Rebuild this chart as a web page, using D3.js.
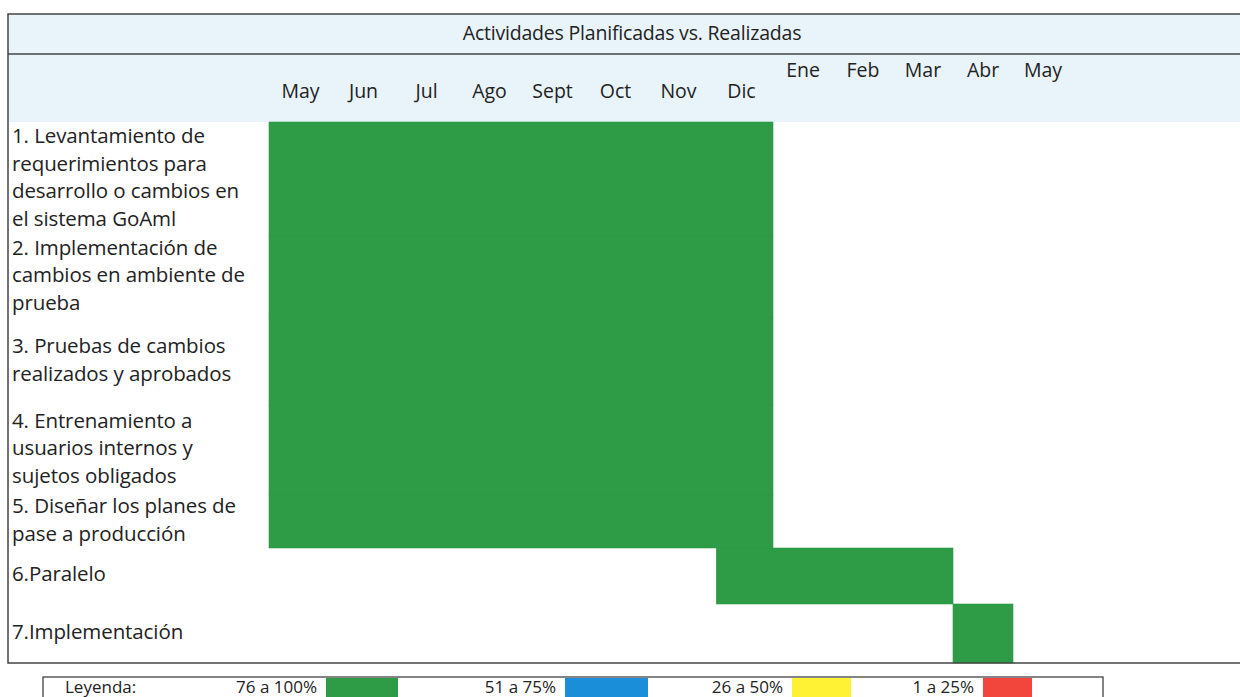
<!DOCTYPE html>
<html>
<head>
<meta charset="utf-8">
<script src="https://cdn.jsdelivr.net/npm/d3@7"></script>
<style>
  body { margin: 0; background: #fff; }
  svg { display: block; font-family: "Open Sans", Lato, sans-serif; }
</style>
</head>
<body>
<svg id="chart" width="1240" height="697"></svg>
<script>
// months on the header (position in months from start of May, raised = second header line)
var months = ["May", "Jun", "Jul", "Ago", "Sept", "Oct", "Nov", "Dic", "Ene", "Feb", "Mar", "Abr", "May"];
var monthRaised = [false, false, false, false, false, false, false, false, true, true, true, true, true];

// activities, label lines and planned period (start/end in months from May)
var taskLabels = [
    ["1. Levantamiento de", "requerimientos para", "desarrollo o cambios en", "el sistema GoAml"],
    ["2. Implementación de", "cambios en ambiente de", "prueba"],
    ["3. Pruebas de cambios", "realizados y aprobados"],
    ["4. Entrenamiento a", "usuarios internos y", "sujetos obligados"],
    ["5. Diseñar los planes de", "pase a producción"],
    ["6.Paralelo"],
    ["7.Implementación"]
];
var taskStart = [0, 0, 0, 0, 0, 7.1, 11];
var taskEnd   = [8, 8, 8, 8, 8, 11, 12];
var taskLevel = ["76 a 100%", "76 a 100%", "76 a 100%", "76 a 100%", "76 a 100%", "76 a 100%", "76 a 100%"];

var legendLabels = ["76 a 100%", "51 a 75%", "26 a 50%", "1 a 25%"];
var legendColors = ["#2e9b47", "#1a8ed8", "#fff235", "#f2463c"];

// layout
var rowHeights = [114, 82, 87, 90, 53, 56, 59];
var top0 = 122;

var svg = d3.select("#chart");

var x = d3.scaleLinear().domain([0, 8, 13]).range([269, 773, 1073]);
var color = d3.scaleOrdinal().domain(legendLabels).range(legendColors);

var rowTop = [];
rowHeights.reduce(function(acc, h) { rowTop.push(acc); return acc + h; }, top0);

// header bands
svg.append("rect").attr("x", 8).attr("y", 14).attr("width", 1240).attr("height", top0 - 14)
    .attr("fill", "#e9f4fa");
svg.append("rect").attr("x", 8).attr("y", top0).attr("width", 1240).attr("height", 663 - top0)
    .attr("fill", "#fff");

svg.append("text")
    .attr("x", 632).attr("y", 35)
    .attr("text-anchor", "middle").attr("dominant-baseline", "middle")
    .style("font-size", "19.5px").style("fill", "#222")
    .style("letter-spacing", "-0.2px")
    .text("Actividades Planificadas vs. Realizadas");

svg.selectAll("text.month")
    .data(months)
    .enter().append("text")
    .attr("class", "month")
    .attr("x", function(d, i) { return x(i + 0.5); })
    .attr("y", function(d, i) { return monthRaised[i] ? 72 : 93; })
    .attr("text-anchor", "middle").attr("dominant-baseline", "middle")
    .style("font-size", "19.5px").style("fill", "#222")
    .text(function(d) { return d; });

// bars
svg.selectAll("rect.bar")
    .data(taskStart)
    .enter().append("rect")
    .attr("class", "bar")
    .attr("x", function(d, i) { return x(taskStart[i]); })
    .attr("width", function(d, i) { return x(taskEnd[i]) - x(taskStart[i]); })
    .attr("y", function(d, i) { return rowTop[i]; })
    .attr("height", function(d, i) { return rowHeights[i]; })
    .attr("fill", function(d, i) { return color(taskLevel[i]); })
    .attr("stroke", function(d, i) { return color(taskLevel[i]); })
    .attr("stroke-width", 0.6);

// activity labels
var lh = 27.5;
taskLabels.forEach(function(lines, i) {
    var cy = rowTop[i] + rowHeights[i] / 2;
    svg.append("g").selectAll("text")
        .data(lines)
        .enter().append("text")
        .attr("x", 12)
        .attr("y", function(d, j) { return cy + (j - (lines.length - 1) / 2) * lh; })
        .attr("dominant-baseline", "middle")
        .style("font-size", "20.5px").style("fill", "#222")
        .style("letter-spacing", "-0.1px")
        .text(function(d) { return d; });
});

// frame
svg.append("line").attr("x1", 8).attr("x2", 1240).attr("y1", 54).attr("y2", 54)
    .attr("stroke", "#444").attr("stroke-width", 1.5);
svg.append("rect").attr("x", 8).attr("y", 14).attr("width", 1240).attr("height", 649)
    .attr("fill", "none").attr("stroke", "#444").attr("stroke-width", 1.5);

// legend
var lg = svg.append("g");
lg.append("rect").attr("x", 43).attr("y", 677).attr("width", 1060).attr("height", 30)
    .attr("fill", "#fff").attr("stroke", "#333").attr("stroke-width", 1.2);
lg.append("text").attr("x", 65).attr("y", 688)
    .attr("dominant-baseline", "middle")
    .style("font-size", "17px").style("fill", "#222")
    .text("Leyenda:");
var swX = [326, 565, 792, 983];
var swW = [72, 83, 59, 49];
lg.selectAll("rect.sw")
    .data(legendLabels)
    .enter().append("rect")
    .attr("class", "sw")
    .attr("x", function(d, i) { return swX[i]; })
    .attr("y", 678).attr("width", function(d, i) { return swW[i]; }).attr("height", 20)
    .attr("fill", function(d) { return color(d); });
lg.selectAll("text.lt")
    .data(legendLabels)
    .enter().append("text")
    .attr("class", "lt")
    .attr("x", function(d, i) { return swX[i] - 9; })
    .attr("y", 688)
    .attr("text-anchor", "end").attr("dominant-baseline", "middle")
    .style("font-size", "17px").style("fill", "#222")
    .text(function(d) { return d; });
</script>
</body>
</html>
